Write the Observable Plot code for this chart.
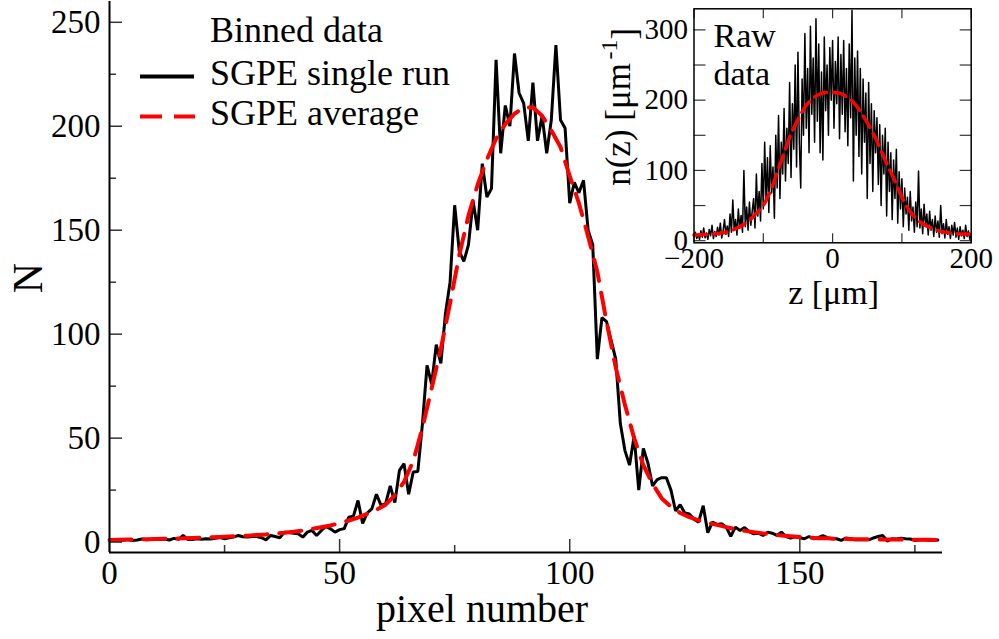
<!DOCTYPE html>
<html><head><meta charset="utf-8">
<script src="https://cdn.jsdelivr.net/npm/d3@7"></script>
<script src="https://cdn.jsdelivr.net/npm/@observablehq/plot@0.6"></script>
<style>
body{margin:0;background:#fff}
#wrap{position:relative;width:999px;height:639px;overflow:hidden;background:#fff}
#wrap svg{position:absolute;overflow:visible}
</style></head><body><div id="wrap"></div>
<script>
// ---------- Main panel data (binned) ----------
const pixelNumbers = d3.range(0, 181);
const singleRun = [
1.0,0.8,1.0,0.9,1.2,0.8,1.0,1.5,1.1,1.3,
1.6,1.2,1.5,1.0,1.8,1.3,3.2,1.3,1.3,1.6,
1.4,1.6,1.5,1.8,2.2,1.6,2.1,2.5,3.2,2.6,
2.4,2.7,2.7,2.1,1.1,3.2,2.7,2.1,4.8,4.6,
4.3,4.0,2.4,4.8,5.6,3.2,5.5,7.5,6.4,4.8,
6.0,6.5,12,12.5,20,9,14,16,23,17.7,
18.5,27,19,34.5,37.7,23,33.7,34,57,85,
76,95,86,110,125,162,140,135,143,164,
150,182,166,170,232,187,210,200,235,216,
211,193,221,193,205,187,203,239,203,199,
163,173,168,174,150,143,88,108,106,97,
88,57,44,37,51,25,45,38,27,30,
31,31,25,15,18,14,13.5,11,9.6,17.5,
4.5,9.6,8.5,8.8,7.2,2.8,7.2,5.6,7.0,5.0,
4.0,4.3,3.2,4.8,4.3,3.2,4.8,2.7,2.0,2.6,
2.1,1.6,2.7,1.6,2.1,3.1,2.1,1.6,1.6,0.8,
2.0,1.6,1.1,1.1,1.2,1.1,2.0,2.7,3.2,0.5,
1.6,1.5,1.8,1.6,1.5,0.8,1.1,1.2,0.9,1.0,
1.0];
const avgPixels = d3.range(0, 181, 2);
const averageRun = [
1.0,1.1,1.2,1.3,1.4,1.5,1.6,1.7,1.8,2.0,
2.1,2.3,2.5,2.7,2.9,3.1,3.4,3.7,4.1,4.5,
5.0,5.6,6.3,7.1,8.0,9.1,10.4,11.8,13.6,15.5,
18,22.5,29,39,55,74,93,115,138,157,
172,184,194,201,206,209,209,205,198,190,
176,163,147,130,106,84,66,50,37,28,
21,17,14,12,10.5,9.3,8.3,7.2,6.2,5.4,
4.8,4.2,3.6,3.2,2.8,2.4,2.1,1.9,1.8,1.6,
1.5,1.4,1.4,1.3,1.3,1.2,1.2,1.1,1.1,1.1,
1.0];
const mainXMajor = [0, 50, 100, 150];
const mainXMinor = [25, 75, 125, 175];
const mainYMajor = [0, 50, 100, 150, 200, 250];
const mainYMinor = [25, 75, 125, 175, 225];
const legendLabels = ["Binned data", "SGPE single run", "SGPE average"];

// ---------- Inset data (raw) ----------
const rawZ = d3.range(-200, 201, 2);
const rawN = [
6,12,3,9,2,14,5,18,4,11,
2,16,7,22,3,13,6,19,8,25,
4,14,30,9,21,6,38,12,58,15,
30,8,45,18,36,12,100,20,48,15,
55,22,42,60,18,95,35,70,28,110,
45,140,55,118,40,135,68,105,32,150,
75,178,60,140,95,188,85,160,110,225,
90,195,130,250,105,268,140,75,230,150,
295,160,245,125,305,180,260,140,316,170,
280,125,240,115,290,185,250,150,275,200,
285,160,255,195,290,145,265,180,285,155,
245,135,280,175,328,85,260,150,270,120,
245,95,230,140,210,60,225,110,195,70,
185,125,175,80,165,50,150,95,160,35,
140,70,125,30,115,60,130,25,98,45,
88,20,75,38,62,15,70,28,48,12,
55,20,99,18,45,10,52,22,38,8,
42,15,30,6,35,12,28,5,50,10,
24,4,30,9,20,3,22,8,26,5,
18,2,20,7,15,3,22,6,14,2,
10];
const avgZ = d3.range(-200, 201, 10);
const avgN = [
8,8.5,9,10,11,13,17,22,29,39,
50,70,97,125,152,172,190,201,208,211,
211,210,205,197,184,168,150,128,106,85,
62,44,32,24,19,15,12.5,11,10,9.5,
9];
const insetXLabels = [-200, 0, 200];
const insetXTicks = [-200, -100, 0, 100, 200];
const insetYLabels = [0, 100, 200, 300];
const insetYTicks = [0, 50, 100, 150, 200, 250, 300];

const FONT = "'Liberation Serif', 'Times New Roman', serif";
const RED = "#ff0000";
const TICK = "#333";

const mainSingle = pixelNumbers.map((x, i) => ({x, y: singleRun[i]}));
const mainAvg = avgPixels.map((x, i) => ({x, y: averageRun[i]}));

const main = Plot.plot({
  width: 999, height: 639,
  marginLeft: 109, marginRight: 57, marginTop: 1, marginBottom: 87,
  x: {domain: [0, 181]},
  y: {domain: [-5, 260]},
  style: {fontFamily: FONT, fontSize: "33px", color: "black", background: "transparent"},
  marks: [
    Plot.line(mainSingle, {x: "x", y: "y", stroke: "black", strokeWidth: 3, strokeLinejoin: "miter"}),
    Plot.line(mainAvg, {x: "x", y: "y", stroke: RED, strokeWidth: 4, strokeDasharray: "22,12"}),
    Plot.axisX(mainXMajor, {tickSize: -13, tickFormat: () => "", stroke: TICK, strokeWidth: 1.5, label: null}),
    Plot.axisX(mainXMinor, {tickSize: -7, tickFormat: () => "", stroke: TICK, strokeWidth: 1.5, label: null}),
    Plot.axisX(mainXMajor, {tickSize: 0, tickPadding: 8, fontSize: 33, label: null}),
    Plot.axisY(mainYMajor, {tickSize: -13, tickFormat: () => "", stroke: TICK, strokeWidth: 1.5, label: null}),
    Plot.axisY(mainYMinor, {tickSize: -7, tickFormat: () => "", stroke: TICK, strokeWidth: 1.5, label: null}),
    Plot.axisY(mainYMajor, {tickSize: 0, tickPadding: 9, fontSize: 33, label: null}),
    Plot.ruleX([0], {stroke: "black", strokeWidth: 2}),
    Plot.ruleY([-5], {stroke: "black", strokeWidth: 2}),
    Plot.text(["pixel number"], {frameAnchor: "bottom", dx: -44, dy: 69, lineAnchor: "bottom", fontSize: 40}),
    Plot.text(["N"], {frameAnchor: "left", textAnchor: "middle", dx: -81, dy: 1, rotate: -90, fontSize: 42})
  ]
});
main.style.left = "0px"; main.style.top = "0px";

const insetRaw = rawZ.map((x, i) => ({x, y: rawN[i]}));
const insetAvg = avgZ.map((x, i) => ({x, y: avgN[i]}));

const inset = Plot.plot({
  width: 399, height: 320,
  marginLeft: 93.5, marginRight: 28.3, marginTop: 8.3, marginBottom: 77.7,
  x: {domain: [-200, 200]},
  y: {domain: [-3, 330]},
  style: {fontFamily: FONT, fontSize: "29px", color: "black", background: "transparent"},
  marks: [
    Plot.line(insetRaw, {x: "x", y: "y", stroke: "black", strokeWidth: 1.5}),
    Plot.line(insetAvg, {x: "x", y: "y", stroke: RED, strokeWidth: 3.5, strokeDasharray: "13,7", curve: "monotone-x"}),
    Plot.axisX(insetXTicks, {anchor: "bottom", tickSize: -9, tickFormat: () => "", stroke: TICK, strokeWidth: 1.2, label: null}),
    Plot.axisX(insetXTicks, {anchor: "top", tickSize: -9, tickFormat: () => "", stroke: TICK, strokeWidth: 1.2, label: null}),
    Plot.axisY(insetYTicks, {anchor: "left", tickSize: -12, tickFormat: () => "", stroke: TICK, strokeWidth: 1.2, label: null}),
    Plot.axisY(insetYTicks, {anchor: "right", tickSize: -12, tickFormat: () => "", stroke: TICK, strokeWidth: 1.2, label: null}),
    Plot.axisX(insetXLabels, {anchor: "bottom", tickSize: 0, tickPadding: 5, fontSize: 29, label: null}),
    Plot.axisY(insetYLabels, {anchor: "left", tickSize: 0, tickPadding: 6, fontSize: 29, label: null}),
    Plot.frame({stroke: "black", strokeWidth: 1.5}),
    Plot.text(["Raw\ndata"], {frameAnchor: "top-left", dx: 19.5, dy: 11, textAnchor: "start", lineAnchor: "top", lineHeight: 1.12, fontSize: 34}),
    Plot.text(["z [μm]"], {frameAnchor: "bottom", dx: 1, dy: 61, lineAnchor: "bottom", fontSize: 34}),
    Plot.text(["n(z) [μm"], {frameAnchor: "left", textAnchor: "middle", dx: -75, dy: -19, rotate: -90, fontSize: 35})
  ]
});
inset.style.left = "600px"; inset.style.top = "0px";
d3.select(inset).selectAll("text").filter(function() { return this.textContent === "n(z) [μm"; })
  .each(function() {
    const t = d3.select(this);
    t.append("tspan").attr("dx", "0.15em").attr("dy", "-0.55em").attr("font-size", "24px").text("-1");
    t.append("tspan").attr("dy", "0.55em").text("]");
  });

// ---------- Legend ----------
const leg = d3.create("svg").attr("width", 460).attr("height", 140)
  .style("left", "0px").style("top", "0px")
  .attr("font-family", FONT).attr("font-size", 36).attr("fill", "black");
const rows = [41.7, 84.5, 125];
leg.selectAll("text").data(legendLabels).join("text")
  .attr("x", 210).attr("y", (d, i) => rows[i]).text(d => d);
leg.append("line").attr("x1", 140).attr("x2", 194).attr("y1", 76.5).attr("y2", 76.5)
  .attr("stroke", "black").attr("stroke-width", 4);
leg.append("line").attr("x1", 140).attr("x2", 195).attr("y1", 116.5).attr("y2", 116.5)
  .attr("stroke", RED).attr("stroke-width", 4).attr("stroke-dasharray", "22,12");

const wrap = document.getElementById("wrap");
wrap.appendChild(main);
wrap.appendChild(inset);
wrap.appendChild(leg.node());
</script></body></html>
